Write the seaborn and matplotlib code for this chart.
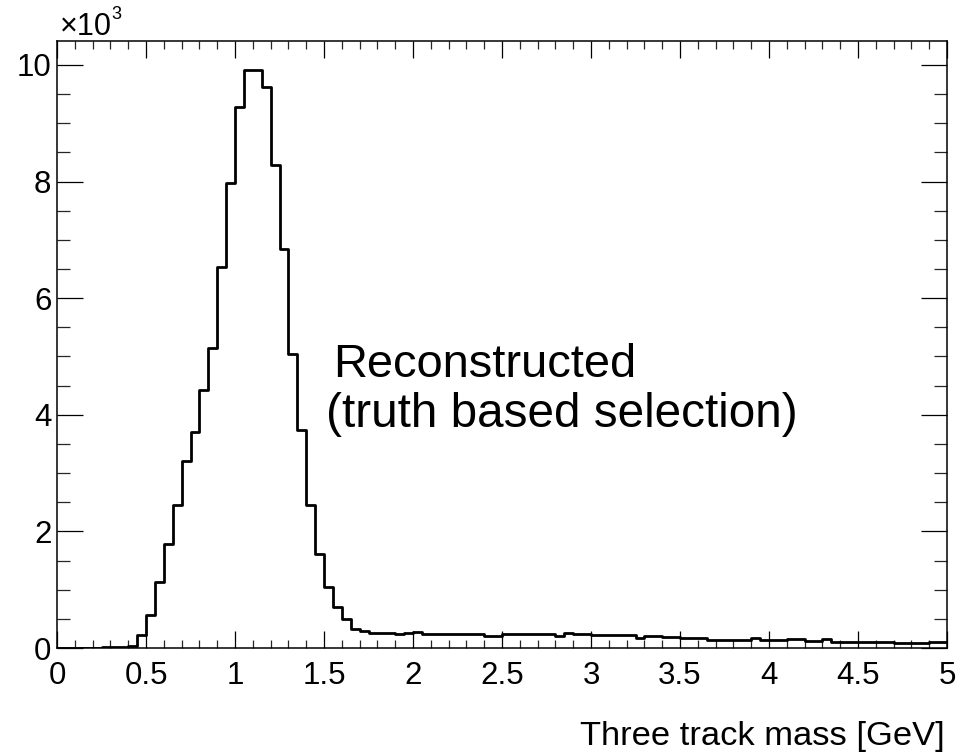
import numpy as np
import pandas as pd
import matplotlib
matplotlib.use("Agg")
import matplotlib.pyplot as plt
from matplotlib.ticker import MultipleLocator
import seaborn as sns

# Bin layout: 100 bins of 0.05 GeV from 0 to 5
bin_lo = 0.0
bin_hi = 5.0
bin_width = 0.05

# Bin contents (in units of 10^3 entries)
counts_k = [
    0.003, 0.004, 0.005, 0.006, 0.008, 0.010, 0.012, 0.020,   # 0.00-0.40
    0.03, 0.22, 0.57, 1.13, 1.78, 2.45, 3.20, 3.70, 4.42, 5.14,  # 0.40-0.90
    6.54, 7.97, 9.27, 9.91, 9.91, 9.62, 8.28, 6.84, 5.04, 3.74,  # 0.90-1.40
    2.45, 1.62, 1.05, 0.71, 0.50, 0.32, 0.29, 0.26, 0.25, 0.25,  # 1.40-1.90
    0.245, 0.25, 0.27, 0.245, 0.245, 0.24, 0.235, 0.235, 0.235, 0.235,  # 1.90-2.40
    0.205, 0.205, 0.245, 0.245, 0.245, 0.24, 0.24, 0.24, 0.205, 0.26,  # 2.40-2.90
    0.235, 0.235, 0.22, 0.22, 0.22, 0.22, 0.22, 0.18, 0.205, 0.205,  # 2.90-3.40
    0.19, 0.19, 0.18, 0.18, 0.17, 0.13, 0.13, 0.13, 0.13, 0.13,  # 3.40-3.90
    0.18, 0.13, 0.13, 0.13, 0.15, 0.15, 0.115, 0.115, 0.16, 0.10,  # 3.90-4.40
    0.10, 0.10, 0.10, 0.10, 0.10, 0.10, 0.085, 0.085, 0.085, 0.085,  # 4.40-4.90
    0.10, 0.10,  # 4.90-5.00
]

x_ticks = [0, 0.5, 1, 1.5, 2, 2.5, 3, 3.5, 4, 4.5, 5]
x_tick_labels = ["0", "0.5", "1", "1.5", "2", "2.5", "3", "3.5", "4", "4.5", "5"]
y_ticks = [0, 2, 4, 6, 8, 10]
y_tick_labels = ["0", "2", "4", "6", "8", "10"]

x_title = "Three track mass [GeV]"
annotation_lines = ["Reconstructed", "(truth based selection)"]

n_bins = len(counts_k)
centers = bin_lo + bin_width * (np.arange(n_bins) + 0.5)
df = pd.DataFrame({"mass": centers, "entries": np.asarray(counts_k, float)})

sns.set_style("ticks")
plt.rcParams["font.family"] = ["Liberation Sans", "DejaVu Sans"]
plt.rcParams["text.color"] = "black"

W, H = 968, 752
fig = plt.figure(figsize=(W / 100, H / 100), dpi=100)
ax = fig.add_axes([57 / W, 1 - 648 / H, (947 - 57) / W, (648 - 41) / H])

sns.histplot(data=df, x="mass", weights="entries", binwidth=bin_width,
             binrange=(bin_lo, bin_hi), element="step", fill=False,
             color="black", linewidth=2.0, ax=ax)

ax.set_xlim(bin_lo, bin_hi)
ax.set_ylim(0, 10.41)
ax.set_xlabel("")
ax.set_ylabel("")

ax.set_xticks(x_ticks)
ax.set_xticklabels(x_tick_labels)
ax.set_yticks(y_ticks)
ax.set_yticklabels(y_tick_labels)
ax.xaxis.set_minor_locator(MultipleLocator(0.1))
ax.yaxis.set_minor_locator(MultipleLocator(0.5))

for s in ax.spines.values():
    s.set_visible(True)
    s.set_linewidth(1.1)
    s.set_color("black")

ax.tick_params(axis="x", which="major", direction="in", length=12, width=0.9,
               top=True, bottom=True, labelsize=22.5, pad=9, colors="black")
ax.tick_params(axis="x", which="minor", direction="in", length=6, width=0.9,
               top=True, bottom=True)
ax.tick_params(axis="y", which="major", direction="in", length=19, width=0.9,
               left=True, right=True, labelsize=22.5, pad=4, colors="black")
ax.tick_params(axis="y", which="minor", direction="in", length=9.5, width=0.9,
               left=True, right=True)

# exponent label (x10^3)
fig.text(60 / W, 1 - 35 / H, "\u00d710", fontsize=22, ha="left", va="baseline",
         color="black")
fig.text(111 / W, 1 - 19 / H, "3", fontsize=13, ha="left", va="baseline",
         color="black")

# annotation
fig.text(333 / W, 1 - 377 / H, annotation_lines[0], fontsize=33.8,
         ha="left", va="baseline", color="black")
fig.text(326 / W, 1 - 427 / H, annotation_lines[1], fontsize=34.3,
         ha="left", va="baseline", color="black")

# x axis title, right aligned
fig.text(945 / W, 1 - 745 / H, x_title, fontsize=24.8, ha="right",
         va="baseline", color="black")

fig.savefig("out.png", dpi=100)
